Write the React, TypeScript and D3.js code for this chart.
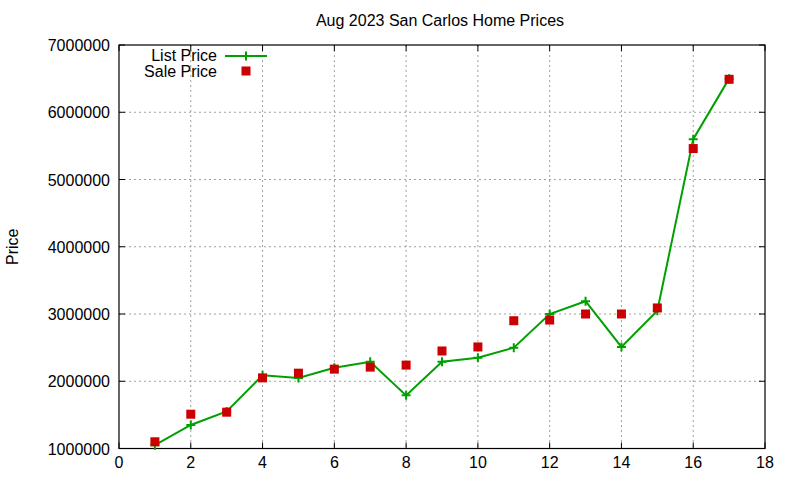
import React from "react";
import * as d3 from "d3";

const xs = [1, 2, 3, 4, 5, 6, 7, 8, 9, 10, 11, 12, 13, 14, 15, 16, 17];
const listPrice = [1050000, 1350000, 1550000, 2090000, 2050000, 2200000, 2290000, 1790000, 2290000, 2350000, 2500000, 3000000, 3190000, 2510000, 3050000, 5600000, 6500000];
const salePrice = [1100000, 1510000, 1540000, 2050000, 2120000, 2180000, 2210000, 2240000, 2450000, 2510000, 2900000, 2910000, 3000000, 3000000, 3090000, 5460000, 6490000];
const xTicks = [0, 2, 4, 6, 8, 10, 12, 14, 16, 18];
const yTicks = [1000000, 2000000, 3000000, 4000000, 5000000, 6000000, 7000000];
const title = "Aug 2023 San Carlos Home Prices";
const yLabel = "Price";
const seriesNames = ["List Price", "Sale Price"];

const W = 800, H = 480;
const L = 119, R = 765, T = 45, B = 448.5;
const GREEN = "#00a000";
const RED = "#cc0000";
const FONT = "'Liberation Sans', Arial, sans-serif";

export default function App() {
  const x = d3.scaleLinear().domain([0, 18]).range([L, R]);
  const y = d3.scaleLinear().domain([1000000, 7000000]).range([B, T]);
  const line = d3.line<number>().x((_, i) => x(xs[i])).y((d) => y(d));
  const tk = 6;
  return (
    <svg width={W} height={H} style={{ position: "absolute", left: 0, top: 0, background: "#fff" }} fontFamily={FONT}>
      <rect width={W} height={H} fill="#fff" />
      {xTicks.slice(1, -1).map((t) => (
        <line key={"gx" + t} x1={x(t)} x2={x(t)} y1={T} y2={B} stroke="#a0a0a0" strokeDasharray="2,3" strokeWidth={1} />
      ))}
      {yTicks.slice(1, -1).map((t) => (
        <line key={"gy" + t} x1={L} x2={R} y1={y(t)} y2={y(t)} stroke="#a0a0a0" strokeDasharray="2,3" strokeWidth={1} />
      ))}
      {xTicks.map((t) => (
        <g key={"xt" + t}>
          <line x1={x(t)} x2={x(t)} y1={B} y2={B - tk} stroke="#000" />
          <line x1={x(t)} x2={x(t)} y1={T} y2={T + tk} stroke="#000" />
          <text x={x(t)} y={B + 19} textAnchor="middle" fontSize={16}>{t}</text>
        </g>
      ))}
      {yTicks.map((t) => (
        <g key={"yt" + t}>
          <line x1={L} x2={L + tk} y1={y(t)} y2={y(t)} stroke="#000" />
          <line x1={R} x2={R - tk} y1={y(t)} y2={y(t)} stroke="#000" />
          <text x={L - 9} y={y(t) + 6} textAnchor="end" fontSize={16}>{t}</text>
        </g>
      ))}
      <rect x={L} y={T} width={R - L} height={B - T} fill="none" stroke="#000" strokeWidth={1.2} />
      <text x={(L + R) / 2 - 2} y={26} textAnchor="middle" fontSize={16}>{title}</text>
      <text transform={`translate(18,${(T + B) / 2}) rotate(-90)`} textAnchor="middle" fontSize={16}>{yLabel}</text>
      <path d={line(listPrice) || ""} fill="none" stroke={GREEN} strokeWidth={2} />
      {listPrice.map((v, i) => (
        <path key={"p" + i} d={`M${x(xs[i]) - 4.5},${y(v)}h9M${x(xs[i])},${y(v) - 4.5}v9`} stroke={GREEN} strokeWidth={2} />
      ))}
      {salePrice.map((v, i) => (
        <rect key={"s" + i} x={x(xs[i]) - 4.5} y={y(v) - 4.5} width={9} height={9} fill={RED} />
      ))}
      <text x={217} y={61} textAnchor="end" fontSize={16}>{seriesNames[0]}</text>
      <line x1={225} x2={267} y1={56} y2={56} stroke={GREEN} strokeWidth={2} />
      <path d={`M${246 - 4.5},56h9M246,${56 - 4.5}v9`} stroke={GREEN} strokeWidth={2} />
      <text x={217} y={77} textAnchor="end" fontSize={16}>{seriesNames[1]}</text>
      <rect x={246 - 4.5} y={71 - 4.5} width={9} height={9} fill={RED} />
    </svg>
  );
}
